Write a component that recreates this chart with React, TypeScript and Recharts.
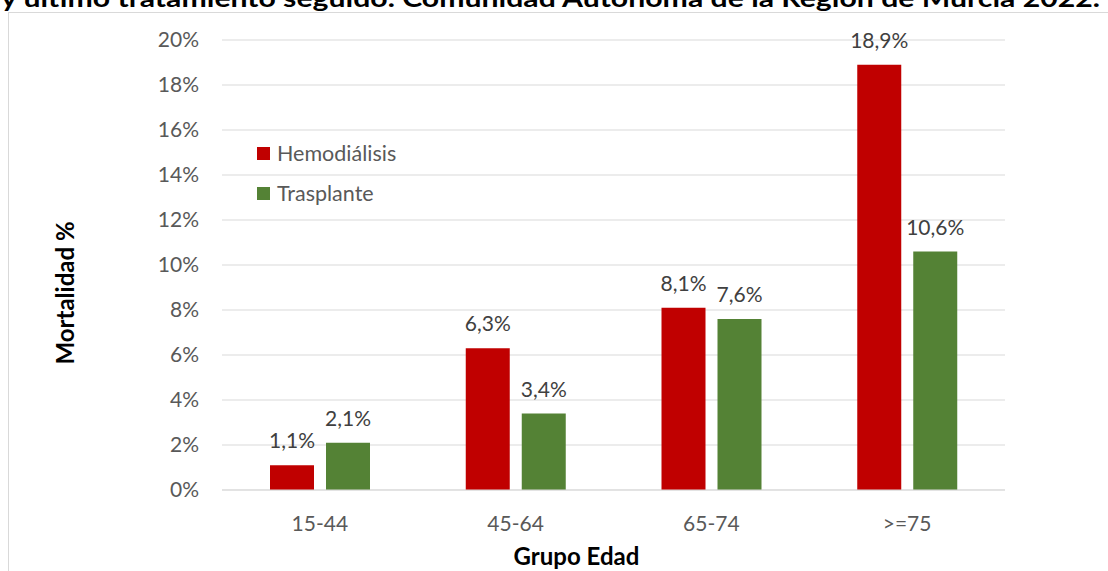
import { Bar, BarChart, CartesianGrid, LabelList, Legend, XAxis, YAxis } from 'recharts'

const ageGroups = ['15-44', '45-64', '65-74', '>=75']
const hemodialisis = [1.1, 6.3, 8.1, 18.9]
const trasplante = [2.1, 3.4, 7.6, 10.6]
const yTicks = [0, 2, 4, 6, 8, 10, 12, 14, 16, 18, 20]

const data = ageGroups.map((group, i) => ({ group, hemo: hemodialisis[i], tx: trasplante[i] }))

const FONT = 'Lato, "Open Sans", sans-serif'
const pct = (value: number) => `${String(value).replace('.', ',')}%`

function LegendBox({ payload }: { payload?: { value: string; color: string }[] }) {
  return (
    <div style={{ fontFamily: FONT }}>
      {(payload || []).map((item) => (
        <div key={item.value} style={{ display: 'flex', alignItems: 'center', height: 40 }}>
          <span style={{ width: 13, height: 13, background: item.color, marginRight: 7 }} />
          <span style={{ fontSize: 21.5, color: '#595959' }}>{item.value}</span>
        </div>
      ))}
    </div>
  )
}

export default function App() {
  return (
    <div style={{ position: 'absolute', left: 0, top: 0, width: 1108, height: 571, overflow: 'hidden', background: '#fff' }}>
      <svg width={1108} height={20} style={{ position: 'absolute', left: 0, top: 0 }}>
        <text x={1} y={7} fontFamily={FONT} fontWeight={700} fontSize={24} fill="#000" textLength={1099} lengthAdjust="spacingAndGlyphs">
          y último tratamiento seguido. Comunidad Autónoma de la Región de Murcia 2022.
        </text>
      </svg>
      <div style={{ position: 'absolute', left: 8, top: 12, width: 1200, height: 700, border: '1px solid #D9D9D9' }} />
      <div style={{ position: 'absolute', left: 0, top: 0 }}>
        <BarChart width={1108} height={571} data={data} margin={{ top: 40, right: 103, bottom: 0, left: 0 }} barCategoryGap={48} barGap={12}>
          <CartesianGrid vertical={false} stroke="#D9D9D9" />
          <XAxis
            dataKey="group"
            height={81}
            tickLine={false}
            tickSize={0}
            tickMargin={26}
            axisLine={{ stroke: '#D9D9D9' }}
            tick={{ fill: '#595959', fontSize: 21, fontFamily: FONT }}
            label={{
              content: ({ viewBox }: any) => (
                <text x={viewBox.x + viewBox.width / 2 - 37} y={viewBox.y + 75} textAnchor="middle" fontFamily={FONT} fontWeight={700} fontSize={24} fill="#000">
                  Grupo Edad
                </text>
              ),
            }}
          />
          <YAxis
            width={222}
            domain={[0, 20]}
            ticks={yTicks}
            tickFormatter={(v) => `${v}%`}
            axisLine={false}
            tickLine={false}
            tickSize={0}
            tickMargin={23}
            tick={{ fill: '#595959', fontSize: 21, fontFamily: FONT }}
            label={{
              content: ({ viewBox }: any) => {
                const cx = viewBox.x + 64
                const cy = viewBox.y + viewBox.height / 2 + 28
                return (
                  <text x={cx} y={cy} transform={`rotate(-90 ${cx} ${cy})`} textAnchor="middle" dominantBaseline="central" fontFamily={FONT} fontWeight={700} fontSize={24} fill="#000">
                    Mortalidad %
                  </text>
                )
              },
            }}
          />
          <Legend
            layout="vertical"
            align="center"
            verticalAlign="middle"
            content={(props: any) => <LegendBox payload={props.payload} />}
            wrapperStyle={{ left: 257, top: 133, width: 200, height: 80 }}
          />
          <Bar dataKey="hemo" name="Hemodiálisis" fill="#C00000" isAnimationActive={false}>
            <LabelList dataKey="hemo" position="top" offset={17} formatter={(v: any) => pct(v)} fill="#404040" fontSize={21} fontFamily={FONT} />
          </Bar>
          <Bar dataKey="tx" name="Trasplante" fill="#548235" isAnimationActive={false}>
            <LabelList dataKey="tx" position="top" offset={17} formatter={(v: any) => pct(v)} fill="#404040" fontSize={21} fontFamily={FONT} />
          </Bar>
        </BarChart>
      </div>
    </div>
  )
}
